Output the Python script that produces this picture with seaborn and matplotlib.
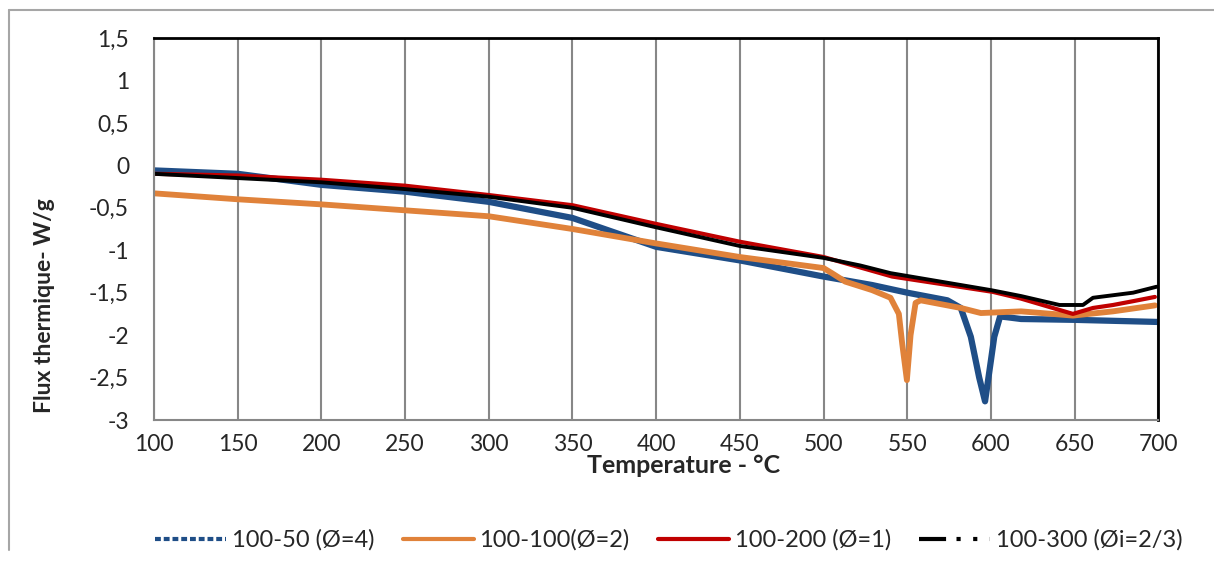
import matplotlib
matplotlib.use("Agg")
import matplotlib.pyplot as plt
from matplotlib.lines import Line2D
import seaborn as sns

# 100-50 (Ø=4)
t_50 = [100, 150, 200, 250, 300, 350, 400, 450, 500, 529, 550, 574, 582, 588, 593,
        596.5, 600, 602, 605.5, 610, 618, 650, 700]
v_50 = [-0.06, -0.10, -0.23, -0.31, -0.43, -0.62, -0.96, -1.12, -1.31, -1.41, -1.50,
        -1.59, -1.68, -2.02, -2.50, -2.78, -2.30, -2.02, -1.78, -1.79, -1.81, -1.82, -1.845]

# 100-100 (Ø=2)
t_100 = [100, 150, 200, 250, 300, 350, 400, 450, 500, 505, 513, 529, 540, 545, 547,
         549.8, 552, 555, 558, 582, 594, 618, 649, 673, 698]
v_100 = [-0.33, -0.40, -0.46, -0.53, -0.60, -0.75, -0.92, -1.08, -1.21, -1.27, -1.37,
         -1.47, -1.56, -1.75, -2.10, -2.53, -2.00, -1.62, -1.59, -1.68, -1.74, -1.72,
         -1.77, -1.72, -1.65]

# 100-200 (Ø=1)
t_200 = [100, 150, 200, 250, 300, 350, 400, 450, 500, 541, 601, 618, 649, 661, 673, 685, 698]
v_200 = [-0.10, -0.12, -0.17, -0.24, -0.35, -0.47, -0.69, -0.90, -1.08, -1.31, -1.49,
         -1.57, -1.75, -1.68, -1.645, -1.60, -1.55]

# 100-300 (Øi=2/3)
t_300 = [100, 150, 200, 250, 300, 350, 400, 450, 500, 522, 540, 600, 618, 641, 655,
         661, 673, 685, 699]
v_300 = [-0.10, -0.15, -0.20, -0.28, -0.37, -0.50, -0.73, -0.95, -1.09, -1.18, -1.27,
         -1.47, -1.54, -1.645, -1.645, -1.56, -1.53, -1.50, -1.43]

labels = ["100-50 (Ø=4)", "100-100(Ø=2)", "100-200 (Ø=1)", "100-300 (Øi=2/3)"]
colors = ["#1F4E87", "#E0823A", "#C00000", "#000000"]

x_ticks = [100, 150, 200, 250, 300, 350, 400, 450, 500, 550, 600, 650, 700]
y_ticks = [-3, -2.5, -2, -1.5, -1, -0.5, 0, 0.5, 1, 1.5]
y_tick_labels = ["-3", "-2,5", "-2", "-1,5", "-1", "-0,5", "0", "0,5", "1", "1,5"]

sns.set_style("white")
plt.rcParams["font.family"] = ["Lato", "DejaVu Sans"]

fig = plt.figure(figsize=(12.14, 5.61), dpi=100)
ax = fig.add_axes([0.1269, 0.2513, 0.8272, 0.6810])

grey = "#878787"
widths = [4.5, 4.2, 3.0, 2.8]
series = [(t_50, v_50), (t_100, v_100), (t_200, v_200), (t_300, v_300)]
for (t, v), c, w in zip(series, colors, widths):
    sns.lineplot(x=t, y=v, ax=ax, color=c, linewidth=w, sort=False)

ax.set_xlim(100, 700)
ax.set_ylim(-3, 1.5)
ax.set_xticks(x_ticks)
ax.set_yticks(y_ticks)
ax.set_yticklabels(y_tick_labels)
ax.tick_params(axis="both", direction="out", length=6, width=1.5, color=grey,
               labelsize=16.5)
ax.tick_params(axis="x", pad=4)
ax.tick_params(axis="y", pad=12)
ax.xaxis.grid(True, color=grey, linewidth=1.5)
ax.yaxis.grid(False)
for side in ["left", "bottom"]:
    ax.spines[side].set_color(grey)
    ax.spines[side].set_linewidth(1.5)
for side in ["top", "right"]:
    ax.spines[side].set_color("black")
    ax.spines[side].set_linewidth(2)

ax.set_xlabel("Temperature - °C", fontsize=18, fontweight="bold")
ax.xaxis.set_label_coords(0.527, -0.088)
ax.set_ylabel("Flux thermique- W/g", fontsize=16.5, fontweight="bold")
ax.yaxis.set_label_coords(-0.099, 0.30)

styles = [(0, (1.4, 0.7)), "-", "-", (0, (6.5, 2.5, 1, 3, 1, 3))]
handles = [Line2D([0], [0], color=c, lw=3, linestyle=s) for c, s in zip(colors, styles)]
fig.legend(handles, labels, loc="center", bbox_to_anchor=(0.551, 0.037), ncol=4,
           frameon=False, fontsize=17, handlelength=3.0, handletextpad=0.25,
           columnspacing=1.2)

# outer chart frame
fig.add_artist(Line2D([9 / 1214, 9 / 1214], [0.02, 1 - 10 / 561], color="#A6A6A6", lw=1.5))
fig.add_artist(Line2D([9 / 1214, 1.0], [1 - 10 / 561, 1 - 10 / 561], color="#A6A6A6", lw=1.5))

fig.savefig("out.png", dpi=100)
